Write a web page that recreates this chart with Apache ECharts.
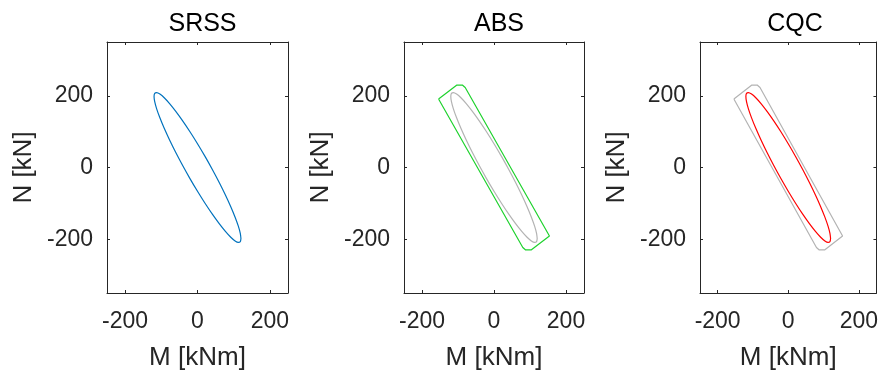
<!DOCTYPE html>
<html>
<head>
<meta charset="utf-8">
<script src="https://cdn.jsdelivr.net/npm/echarts@6/dist/echarts.min.js"></script>
<style>
html,body{margin:0;padding:0;background:#fff;}
#chart{width:881px;height:376px;}
</style>
</head>
<body>
<div id="chart"></div>
<script>
// ---- data ----
const titles = ['SRSS', 'ABS', 'CQC'];
const xTicks = [-200, 0, 200];
const yTicks = [-200, 0, 200];
const xName = 'M [kNm]';
const yName = 'N [kN]';

// SRSS / CQC interaction ellipse (M [kNm], N [kN])
const ellipseM = [120, 118.2, 112.8, 103.9, 91.9, 77.1, 60, 41, 20.8, 0, -20.8, -41, -60, -77.1, -91.9, -103.9, -112.8, -118.2,
  -120, -118.2, -112.8, -103.9, -91.9, -77.1, -60, -41, -20.8, 0, 20.8, 41, 60, 77.1, 91.9, 103.9, 112.8, 118.2, 120];
const ellipseN = [-198.2, -206.7, -208.9, -204.8, -194.5, -178.2, -156.5, -130.1, -99.7, -66.3, -30.9, 5.5, 41.7, 76.6, 109.2, 138.5, 163.6, 183.7,
  198.2, 206.7, 208.9, 204.8, 194.5, 178.2, 156.5, 130.1, 99.7, 66.3, 30.9, -5.5, -41.7, -76.6, -109.2, -138.5, -163.6, -183.7, -198.2];

// ABS envelope polygon
const absM = [-154, -103, -88, -83, -80, 154, 103, 88, 83, 80, -154];
const absN = [191, 230, 230, 228, 223, -191, -230, -230, -228, -223, 191];

function pairs(xs, ys) { return xs.map((x, i) => [x, ys[i]]); }

const chart = echarts.init(document.getElementById('chart'), null, {renderer: 'canvas'});
const FONT = 'Liberation Sans, Arial, Helvetica, sans-serif';
const TXT = '#262626';
const AX = '#262626';

const gridLefts = [107, 404, 700];
const gridWidths = [181, 180, 180];
const grids = [], xAxes = [], yAxes = [], titleCfg = [];

gridLefts.forEach((l, i) => {
  grids.push({left: l, top: 42, width: gridWidths[i], height: 251, containLabel: false});
  titleCfg.push({
    text: titles[i], left: l + gridWidths[i] / 2, top: 7, textAlign: 'center',
    textStyle: {fontFamily: FONT, fontSize: 25, fontWeight: 'normal', color: '#000'}
  });
  const baseX = {
    type: 'value', gridIndex: i, min: -250, max: 250,
    splitLine: {show: false},
    axisLine: {show: true, onZero: false, lineStyle: {color: AX, width: 1}},
    axisTick: {show: true, inside: true, length: 3, customValues: xTicks, lineStyle: {color: AX}}
  };
  xAxes.push(Object.assign({}, baseX, {
    position: 'bottom',
    name: xName, nameLocation: 'middle', nameGap: 52,
    nameTextStyle: {fontFamily: FONT, fontSize: 26, color: TXT},
    axisLabel: {show: true, customValues: xTicks, margin: 17, fontFamily: FONT, fontSize: 23, color: TXT}
  }));
  xAxes.push(Object.assign({}, baseX, {position: 'top', axisLabel: {show: false}}));
  const baseY = {
    type: 'value', gridIndex: i, min: -350, max: 350,
    splitLine: {show: false},
    axisLine: {show: true, onZero: false, lineStyle: {color: AX, width: 1}},
    axisTick: {show: true, inside: true, length: 3, customValues: yTicks, lineStyle: {color: AX}}
  };
  yAxes.push(Object.assign({}, baseY, {
    position: 'left',
    name: yName, nameLocation: 'middle', nameGap: 70, nameRotate: 90,
    nameTextStyle: {fontFamily: FONT, fontSize: 26, color: TXT},
    axisLabel: {show: true, customValues: yTicks, margin: 14, fontFamily: FONT, fontSize: 23, color: TXT}
  }));
  yAxes.push(Object.assign({}, baseY, {position: 'right', axisLabel: {show: false}}));
});

function lineSeries(idx, data, color, smooth) {
  return {
    type: 'line', xAxisIndex: idx * 2, yAxisIndex: idx * 2, data: data,
    showSymbol: false, symbol: 'none', smooth: smooth, clip: true,
    lineStyle: {color: color, width: 1.2}, silent: true
  };
}

const ellipse = pairs(ellipseM, ellipseN);
const absPoly = pairs(absM, absN);

chart.setOption({
  animation: false,
  backgroundColor: '#fff',
  title: titleCfg,
  grid: grids,
  xAxis: xAxes,
  yAxis: yAxes,
  series: [
    lineSeries(0, ellipse, '#0072BD', 0.3),
    lineSeries(1, ellipse, '#b3b3b3', 0.3),
    lineSeries(1, absPoly, '#1fd22e', false),
    lineSeries(2, absPoly, '#b3b3b3', false),
    lineSeries(2, ellipse, '#ff0000', 0.3)
  ]
});
</script>
</body>
</html>
